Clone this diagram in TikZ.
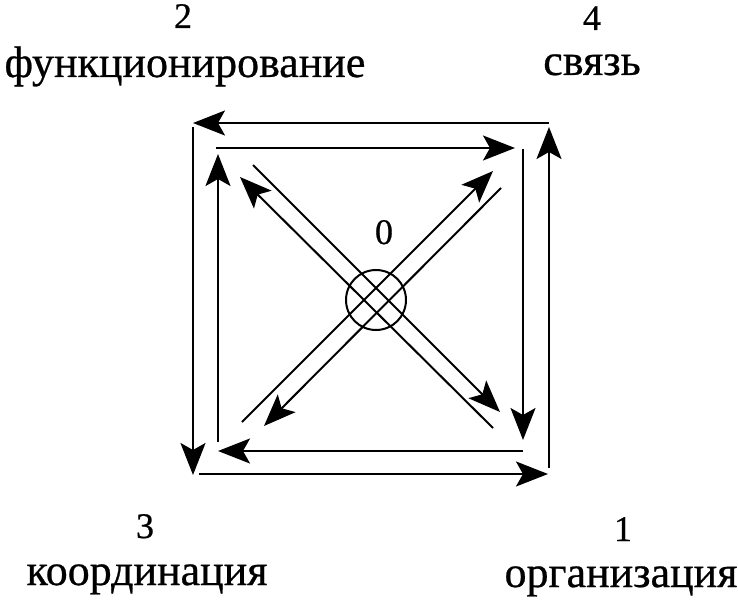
\documentclass[tikz,border=0pt]{standalone}
\usepackage{fontspec}
\setmainfont{Liberation Serif}[FakeBold=0.6]
\usetikzlibrary{arrows.meta}
\tikzset{
  arr/.style = {-{Stealth[length=32pt, width=25pt, inset=7pt]}, line width=2pt},
  word/.style = {anchor=base, inner sep=0pt, font=\fontsize{44}{44}\selectfont},
  num/.style = {anchor=base, inner sep=0pt, font=\fontsize{36}{36}\selectfont}
}
\begin{document}
\begin{tikzpicture}[x=1pt, y=-1pt]
\useasboundingbox (0,0) rectangle (738,599);
% outer square
\coordinate (oNW) at (193,123);
\coordinate (oNE) at (549,123);
\coordinate (oSE) at (549,474);
\coordinate (oSW) at (193,474);
% inner square
\coordinate (iNW) at (218,148);
\coordinate (iNE) at (523,148);
\coordinate (iSE) at (523,451);
\coordinate (iSW) at (218,451);
\draw [arr] (oNE) -- (oNW);
\draw [arr, shorten <= 4pt, shorten >= -1pt] (oNW) -- (oSW);
\draw [arr, shorten <= 6pt, shorten >= 1pt] (oSW) -- (oSE);
\draw [arr, shorten <= 6pt, shorten >= 4pt] (oSE) -- (oNE);
\draw [arr, shorten <= -2pt, shorten >= 8pt] (iNW) -- (iNE);
\draw [arr, shorten <= 1pt, shorten >= 11pt] (iNE) -- (iSE);
\draw [arr] (iSE) -- (iSW);
\draw [arr, shorten <= 9pt, shorten >= 6pt] (iSW) -- (iNW);
% centre
\node (c) [circle, draw, line width=2pt, minimum size=60pt, inner sep=0pt] at (376,300) {};
\node (n0) [num] at (384,244) {0};
% diagonals
\coordinate (a1) at (253,165);
\coordinate (a2) at (500,412);
\coordinate (b1) at (493,428);
\coordinate (b2) at (240,177);
\coordinate (c1) at (242,422);
\coordinate (c2) at (493,171);
\coordinate (d1) at (501,188);
\coordinate (d2) at (264,426);
\draw [arr] (a1) -- (a2);
\draw [arr] (b1) -- (b2);
\draw [arr] (c1) -- (c2);
\draw [arr] (d1) -- (d2);
% labels
\node (n2) [num] at (183,28) {2};
\node (w2) [word] at (185,77) {функционирование};
\node (n4) [num] at (592,30) {4};
\node (w4) [word] at (592,75) {связь};
\node (n3) [num] at (145,538) {3};
\node (w3) [word] at (147,585) {координация};
\node (n1) [num] at (623,541) {1};
\node (w1) [word] at (621,587) {организация};
\end{tikzpicture}
\end{document}
